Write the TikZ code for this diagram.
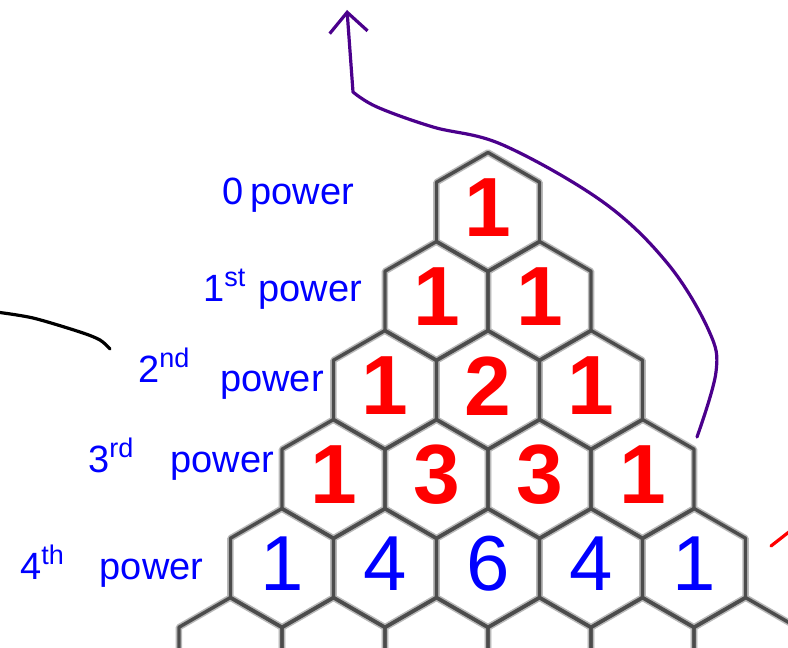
\documentclass[tikz,border=0pt]{standalone}
\usepackage{fontspec}
\setmainfont{Liberation Sans}
\usetikzlibrary{arrows.meta}

\definecolor{sweepviolet}{RGB}{75,0,140}
\newcommand\sups[1]{\raisebox{.42em}{\fontsize{27}{27}\selectfont #1}}

\begin{document}
\begin{tikzpicture}[
  x=1pt,y=1pt,
  hexblur/.style={draw=gray!55,line width=6.5pt,line join=round},
  hexcell/.style={draw=black!70,line width=3.4pt,line join=round},
  rednum/.style={text=red,font=\fontsize{84}{84}\selectfont\bfseries,inner sep=0pt},
  bluenum/.style={text=blue,font=\fontsize{78}{78}\selectfont,inner sep=0pt},
  powlabel/.style={text=blue,font=\fontsize{38}{38}\selectfont,anchor=base west,inner sep=0pt},
  sweep/.style={draw=sweepviolet,line width=3.2pt,line cap=round,line join=round,
    -{Straight Barb[length=20pt,width=38pt,line width=3.2pt]}},
  scrawl/.style={draw=black,line width=3.2pt,line cap=round}
]
  \path[fill=white,use as bounding box] (0,0) rectangle (788,648);

  % hexagon grid, blur first then the lines
  \def\hexr{59.5}
  \foreach \sty in {hexblur,hexcell}
    \foreach \r in {0,...,5}
      \foreach \k in {0,...,\r}
        \draw[\sty] ({488+(\k-\r/2)*103},{436-89*\r}) +(90:\hexr) -- +(30:\hexr)
          -- +(-30:\hexr) -- +(-90:\hexr) -- +(-150:\hexr) -- +(150:\hexr) -- cycle;

  % the numbers of the triangle
  \foreach \r in {0,...,4}
    \foreach \k in {0,...,\r} {
      \pgfmathtruncatemacro\val{factorial(\r)/(factorial(\k)*factorial(\r-\k))}
      \ifnum\r<4 \def\numsty{rednum}\else\def\numsty{bluenum}\fi
      \node[\numsty] (n\r\k) at ({488+(\k-\r/2)*103},{440-89*\r}) {\val};
    }

  % row labels
  \node[powlabel] (p0) at (222,443) {0\hspace{7pt}power};
  \node[powlabel] (p1) at (203,346) {1\sups{st}\hspace{13pt}power};
  \node[powlabel] (p2a) at (138,265) {2\sups{nd}};
  \node[powlabel] (p2b) at (220,256) {power};
  \node[powlabel] (p3) at (88,175) {3\sups{rd}\hspace{37pt}power};
  \node[powlabel] (p4) at (20,68) {4\sups{th}\hspace{36pt}power};

  % strokes
  \coordinate (arcstart) at (697,211);
  \coordinate (arctip) at (347,638);
  \draw[sweep] plot[smooth,tension=0.6] coordinates {(arcstart) (716,276) (709,317)
    (668,384) (603,446) (503,503) (433,521) (377,541) (353,556)} -- (arctip);

  \coordinate (tailstart) at (-4,336);
  \coordinate (tailend) at (110,299);
  \draw[scrawl] plot[smooth] coordinates {(tailstart) (33,330) (80,316) (100,308) (tailend)};

  \coordinate (redfrom) at (771,102);
  \coordinate (redto) at (794,120);
  \draw[scrawl,draw=red] (redfrom) -- (redto);
\end{tikzpicture}
\end{document}
